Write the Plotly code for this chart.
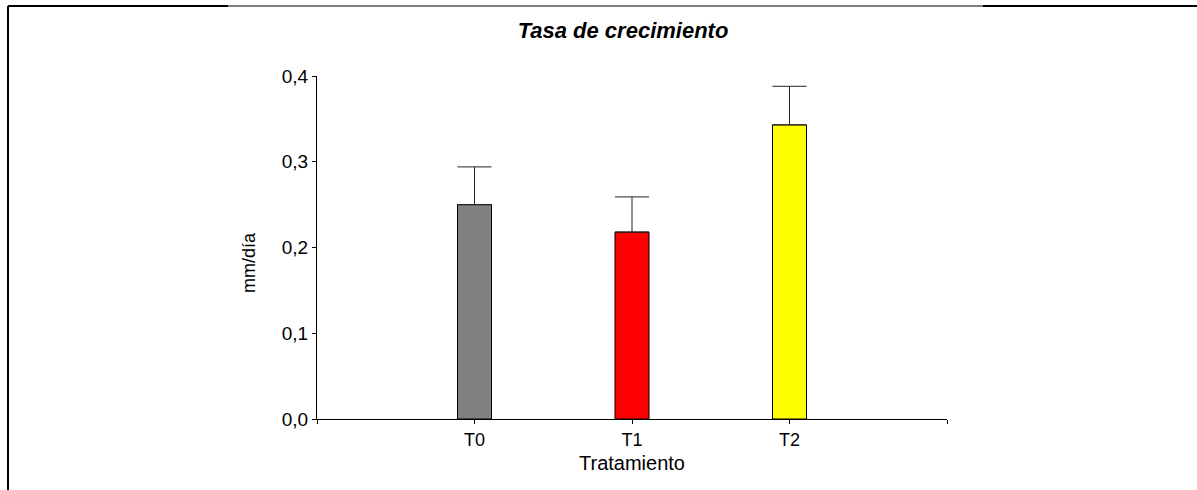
import plotly.graph_objects as go

# Growth rate per treatment (mean and standard error)
categories = ["T0", "T1", "T2"]
x_pos = [0, 1, 2]
rates = [0.250, 0.218, 0.343]
errors = [0.044, 0.041, 0.045]
bar_colors = ["#808080", "#FF0000", "#FFFF00"]
y_tick_vals = [0.0, 0.1, 0.2, 0.3, 0.4]
y_tick_text = ["0,0", "0,1", "0,2", "0,3", "0,4"]

W, H = 1197, 490
L, R, T, B = 317, 250, 76, 71
pw, ph = W - L - R, H - T - B

def px_x(px):
    return (px - L) / pw

def px_y(py):
    return (H - B - py) / ph

font = "Liberation Sans, Arial, sans-serif"

fig = go.Figure()
fig.add_trace(go.Bar(
    x=x_pos, y=rates, width=0.216,
    marker=dict(color=bar_colors, line=dict(color="#000000", width=1)),
    error_y=dict(type="data", array=errors, symmetric=False, arrayminus=[0, 0, 0],
                 color="#222222", thickness=1, width=17),
    showlegend=False,
))

# outer frame: top and left edges
shapes = [
    dict(type="line", xref="paper", yref="paper", x0=px_x(8), x1=px_x(228), y0=px_y(6), y1=px_y(6),
         line=dict(color="#000000", width=2)),
    dict(type="line", xref="paper", yref="paper", x0=px_x(228), x1=px_x(983), y0=px_y(6), y1=px_y(6),
         line=dict(color="#555555", width=1.5)),
    dict(type="line", xref="paper", yref="paper", x0=px_x(983), x1=px_x(1197), y0=px_y(6), y1=px_y(6),
         line=dict(color="#000000", width=2)),
    dict(type="line", xref="paper", yref="paper", x0=px_x(8), x1=px_x(8), y0=px_y(6), y1=px_y(490),
         line=dict(color="#000000", width=2)),
]

annotations = [
    dict(text="Tratamiento", xref="paper", yref="paper", x=px_x(632), y=px_y(463),
         xanchor="center", yanchor="middle", showarrow=False, font=dict(size=20, family=font)),
    dict(text="mm/día", xref="paper", yref="paper", x=px_x(249), y=px_y(263), textangle=-90,
         xanchor="center", yanchor="middle", showarrow=False, font=dict(size=18, family=font)),
]

fig.update_layout(
    width=W, height=H,
    margin=dict(l=L, r=R, t=T, b=B),
    paper_bgcolor="white", plot_bgcolor="white",
    font=dict(family=font, color="#000000", size=18),
    title=dict(text="<b><i>Tasa de crecimiento</i></b>", x=px_x(623), xanchor="center",
               xref="paper", y=1 - 30 / H, yanchor="middle", font=dict(size=22, family=font)),
    xaxis=dict(range=[-1, 3], tickvals=[-1, 0, 1, 2, 3], ticktext=["", "T0", "T1", "T2", ""],
               showline=True, linecolor="#000000", linewidth=1, ticks="outside", ticklen=4,
               tickcolor="#000000", showgrid=False, zeroline=False,
               tickfont=dict(size=18)),
    yaxis=dict(range=[0, 0.4], tickvals=y_tick_vals, ticktext=y_tick_text,
               showline=True, linecolor="#000000", linewidth=1, ticks="outside", ticklen=4,
               tickcolor="#000000", showgrid=False, zeroline=False,
               tickfont=dict(size=19)),
    shapes=shapes,
    annotations=annotations,
)

fig.write_html("out.html")
